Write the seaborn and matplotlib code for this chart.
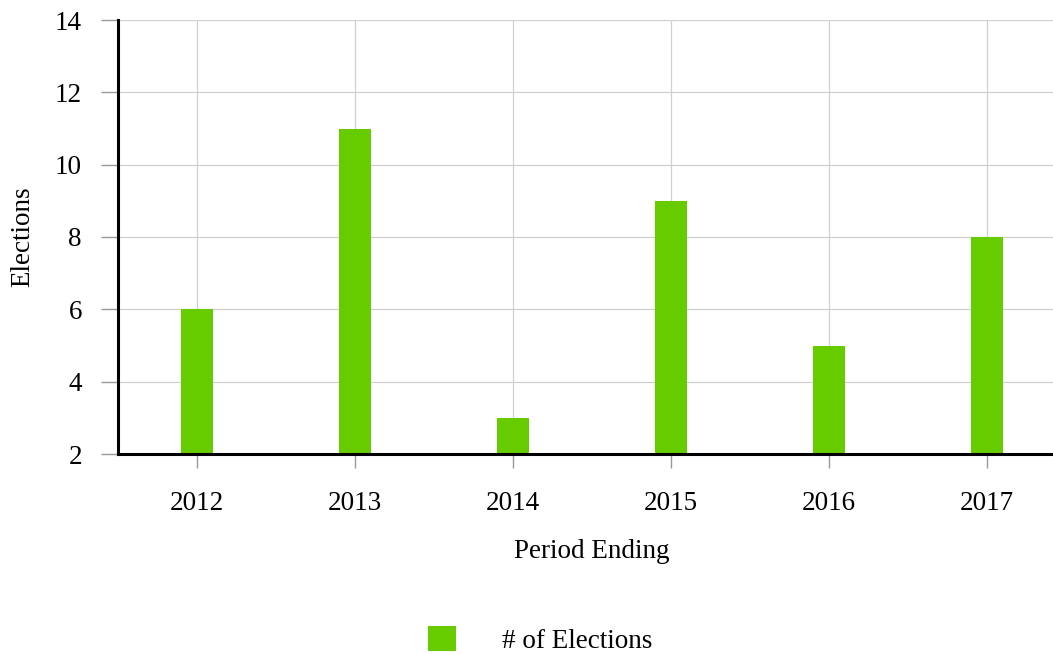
import pandas as pd
import seaborn as sns
import matplotlib.pyplot as plt

years = ['2012', '2013', '2014', '2015', '2016', '2017']
elections = [6, 11, 3, 9, 5, 8]
yticks = [2, 4, 6, 8, 10, 12, 14]

df = pd.DataFrame({'Period Ending': years, 'Elections': elections})

sns.set_theme(style='white')
plt.rcParams['font.family'] = ['Liberation Serif', 'DejaVu Serif']
plt.rcParams['text.color'] = 'black'
plt.rcParams['axes.labelcolor'] = 'black'
plt.rcParams['xtick.labelcolor'] = 'black'
plt.rcParams['ytick.labelcolor'] = 'black'

fig = plt.figure(figsize=(10.53, 6.54), dpi=100)
ax = fig.add_axes([118/1053, 1 - 454/654, (1066 - 118)/1053, 434/654])

sns.barplot(data=df, x='Period Ending', y='Elections', color='#66cc00',
            saturation=1, width=0.2, ax=ax, label='# of Elections',
            linewidth=0, zorder=3)

ax.set_xlim(-0.5, 5.5)
ax.set_ylim(2, 14)
ax.set_yticks(yticks)
ax.grid(True, color='#d0d0d0', linewidth=0.9, zorder=0)
ax.set_axisbelow(True)

for s in ['top', 'right']:
    ax.spines[s].set_visible(False)
for s in ['left', 'bottom']:
    ax.spines[s].set_color('black')
    ax.spines[s].set_linewidth(2.2)
    ax.spines[s].set_zorder(4)

ax.tick_params(axis='y', length=12, width=1, color='#999999', labelsize=19.5, pad=14, left=True)
ax.tick_params(axis='x', length=10, width=1, color='#999999', labelsize=19.5, pad=16.5, bottom=True)
ax.set_xlabel('Period Ending', fontsize=19.5, labelpad=17)
ax.set_ylabel('Elections', fontsize=19.5, labelpad=14)

handles, labels = ax.get_legend_handles_labels()
if ax.get_legend():
    ax.get_legend().remove()
fig.legend(handles, labels, loc='center', bbox_to_anchor=(540/1053, 1 - 640/654),
           frameon=False, fontsize=19.5, handlelength=1.05, handleheight=1.05,
           handletextpad=1.7)

fig.savefig('out.png', dpi=100)
